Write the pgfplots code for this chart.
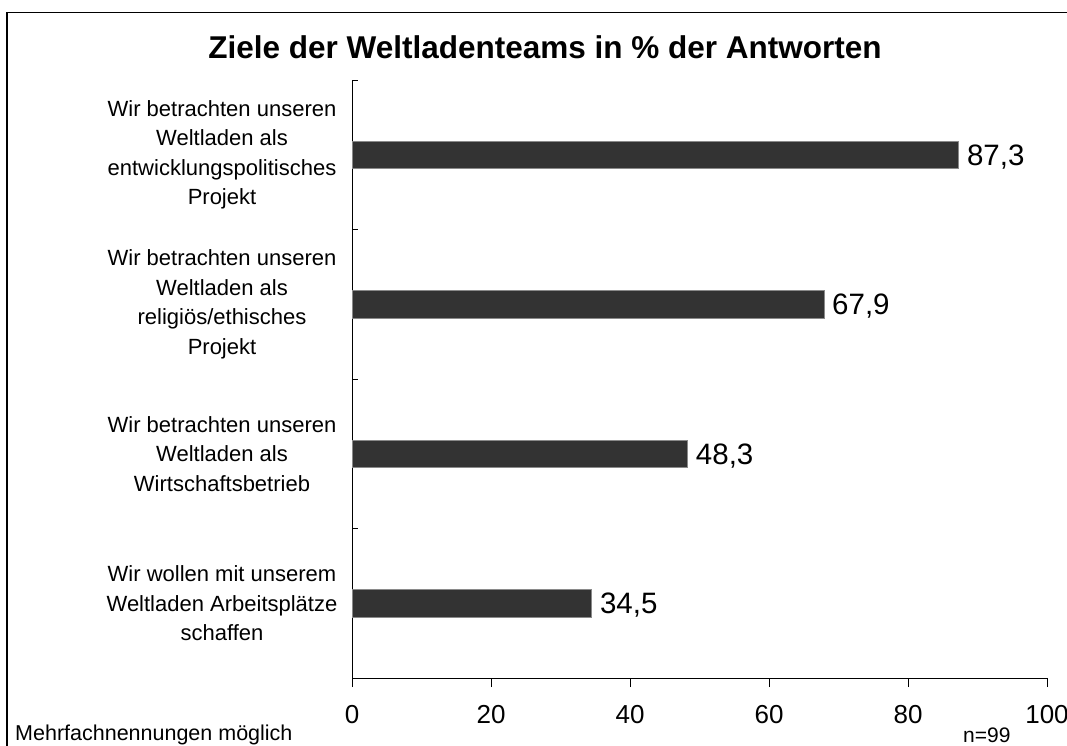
\documentclass[border=0pt]{standalone}
\usepackage{pgfplots}
\pgfplotsset{compat=1.18}
\usepackage{fontspec}
\setmainfont{Liberation Sans}
\definecolor{barfill}{HTML}{333333}
\definecolor{baredge}{HTML}{8A8A8A}
\begin{document}
\begin{tikzpicture}[x=1pt,y=1pt]
\useasboundingbox (0,0) rectangle (1067,745);
\draw[line width=1.2pt] (7,-10) -- (7,732.5) -- (1080,732.5);
\begin{axis}[
  at={(352pt,67pt)}, anchor=south west,
  scale only axis, width=695pt, height=598pt,
  xmin=0, xmax=100, ymin=0, ymax=4,
  axis lines=left, axis line style={-, line width=0.8pt},
  xbar, bar width=27.3pt,
  xtick={0,20,40,60,80,100},
  ytick={0.5,1.5,2.5,3.5},
  yticklabels={{Wir wollen mit unserem\\Weltladen Arbeitsplätze\\schaffen},
               {Wir betrachten unseren\\Weltladen als\\Wirtschaftsbetrieb},
               {Wir betrachten unseren\\Weltladen als\\religiös/ethisches\\Projekt},
               {Wir betrachten unseren\\Weltladen als\\entwicklungspolitisches\\Projekt}},
  tick align=outside,
  major tick length=9pt,
  major y tick style={draw=none},
  major x tick style={line width=0.8pt, draw=black},
  /pgf/number format/assume math mode=true,
  xticklabel style={font=\fontsize{26}{30}\selectfont, inner sep=0pt, anchor=north, yshift=-18pt},
  yticklabel style={font=\fontsize{22}{29.5}\selectfont, align=center, inner sep=0pt, anchor=center, xshift=-121pt},
  clip=false,
]
\addplot[fill=barfill, draw=baredge, line width=0.6pt,
  point meta=x,
  nodes near coords={\pgfmathprintnumber[fixed, fixed zerofill, precision=1, use comma, assume math mode=true]{\pgfplotspointmeta}},
  nodes near coords style={font=\fontsize{29.5}{33}\selectfont, anchor=base west, inner sep=0pt, xshift=8pt, yshift=-10.5pt},
] coordinates {(34.5,0.5) (48.3,1.5) (67.9,2.5) (87.3,3.5)};
\draw[line width=0.8pt] (axis cs:0,0) -- ++(6pt,0);
\draw[line width=0.8pt] (axis cs:0,1) -- ++(6pt,0);
\draw[line width=0.8pt] (axis cs:0,2) -- ++(6pt,0);
\draw[line width=0.8pt] (axis cs:0,3) -- ++(6pt,0);
\draw[line width=0.8pt] (axis cs:0,4) -- ++(6pt,0);
\end{axis}
\node[anchor=base, font=\fontsize{31.5}{36}\selectfont\bfseries, inner sep=0pt] at (545,686) {Ziele der Weltladenteams in \% der Antworten};
\node[anchor=base west, font=\fontsize{21.5}{25}\selectfont, inner sep=0pt] at (15,5) {Mehrfachnennungen möglich};
\node[anchor=base west, font=\fontsize{21}{24}\selectfont, inner sep=0pt] at (963,2.5) {n=99};
\end{tikzpicture}
\end{document}
